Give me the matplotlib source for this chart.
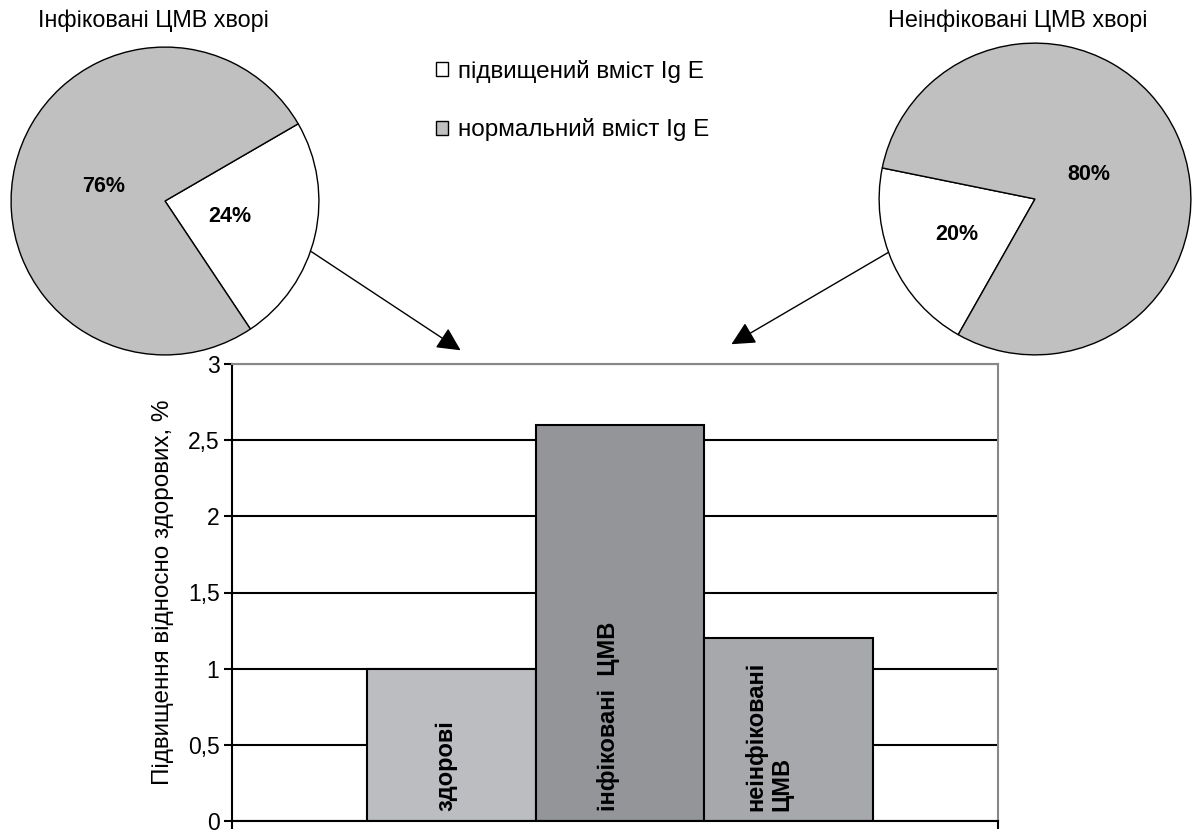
import matplotlib
matplotlib.use("Agg")
import matplotlib.pyplot as plt
import numpy as np
from matplotlib.patches import Patch
from matplotlib.ticker import FuncFormatter

plt.rcParams['font.family'] = ['Liberation Sans', 'DejaVu Sans']

# data
groups = ['здорові', 'інфіковані  ЦМВ', 'неінфіковані\nЦМВ']
ratio = [1.0, 2.6, 1.2]
bar_colors = ['#bcbdc1', '#949599', '#a7a8ac']
label_shift = [-0.03, -0.07, -0.12]

pie_left_title = 'Інфіковані ЦМВ хворі'
pie_left = [24, 76]
pie_right_title = 'Неінфіковані ЦМВ хворі'
pie_right = [20, 80]
pie_labels = ['підвищений вміст Ig E', 'нормальний вміст Ig E']
pie_colors = ['white', '#c0c0c0']

W, H = 1192, 835
fig = plt.figure(figsize=(W / 100, H / 100), dpi=100)

def px_box(x0, y0, x1, y1):
    # pixel box (top-left origin) -> figure fraction rect
    return [x0 / W, 1 - y1 / H, (x1 - x0) / W, (y1 - y0) / H]

# ---- bar chart
ax = fig.add_axes(px_box(232, 364, 998, 821))
x = np.arange(len(groups))
ax.bar(x, ratio, width=1.0, color=bar_colors, edgecolor='black', linewidth=1.5, zorder=2)
ax.set_xlim(-1.3, 3.24)
ax.set_ylim(0, 3)
ax.set_yticks(np.arange(0, 3.01, 0.5))
ax.yaxis.set_major_formatter(FuncFormatter(lambda v, p: ('%g' % v).replace('.', ',')))
ax.set_xticks([-1.3, 3.24])
ax.set_xticklabels(['', ''])
ax.tick_params(axis='both', direction='out', length=6, width=1.5, labelsize=16.5, pad=3)
ax.yaxis.grid(True, color='black', linewidth=1.5)
ax.set_axisbelow(True)
for s in ['left', 'bottom']:
    ax.spines[s].set_color('black')
    ax.spines[s].set_linewidth(1.5)
for s in ['top', 'right']:
    ax.spines[s].set_color('#888888')
    ax.spines[s].set_linewidth(1.5)
ax.set_ylabel('Підвищення відносно здорових, %', fontsize=17.5, labelpad=10)

for xi, g, sh in zip(x, groups, label_shift):
    ax.text(xi + sh, 0.065, g, rotation=90, ha='center', va='bottom', multialignment='left',
            fontsize=17, fontweight='bold', linespacing=1.15, zorder=3)

# ---- pies
def draw_pie(box, vals, start, dists, title, title_xy):
    pax = fig.add_axes(px_box(*box))
    wedges, _ = pax.pie(vals, colors=pie_colors, startangle=start, counterclock=True,
                        wedgeprops=dict(edgecolor='black', linewidth=1))
    pax.set_xlim(-1.02, 1.02)
    pax.set_ylim(-1.02, 1.02)
    for w, v, d in zip(wedges, vals, dists):
        a = np.deg2rad((w.theta1 + w.theta2) / 2)
        pax.text(d * np.cos(a), d * np.sin(a), '%d%%' % v, ha='center', va='center',
                 fontsize=15.5, fontweight='bold')
    fig.text(title_xy[0] / W, 1 - title_xy[1] / H, title, ha='left', va='center', fontsize=16.8)
    return pax

pa1 = draw_pie((165 - 157, 201 - 157, 165 + 157, 201 + 157), pie_left, -56.3, [0.43, 0.41],
               pie_left_title, (38, 21))
pa2 = draw_pie((1035 - 159, 199 - 159, 1035 + 159, 199 + 159), pie_right, 168.5, [0.55, 0.38],
               pie_right_title, (888, 20))

# ---- arrows pie -> bar chart
arrow = dict(arrowstyle='-|>,head_length=1.0,head_width=0.5', mutation_scale=14.4,
             color='black', lw=1, shrinkA=0, shrinkB=0)
a1 = np.deg2rad(-19)
ax.annotate('', xy=(0.055, 3.09), xycoords='data', xytext=(np.cos(a1), np.sin(a1)),
            textcoords=pa1.transData, arrowprops=arrow, annotation_clip=False)
a2 = np.deg2rad(200)
ax.annotate('', xy=(1.66, 3.13), xycoords='data', xytext=(np.cos(a2), np.sin(a2)),
            textcoords=pa2.transData, arrowprops=arrow, annotation_clip=False)

# ---- legend
handles = [Patch(facecolor=c, edgecolor='black', linewidth=1) for c in pie_colors]
fig.legend(handles, pie_labels, loc='upper left', bbox_to_anchor=(436 / W, 1 - 60 / H),
           frameon=False, fontsize=17.5, handlelength=0.5, handleheight=0.5,
           handletextpad=0.4, labelspacing=1.45, borderpad=0, borderaxespad=0)

fig.savefig('out.png', dpi=100)
